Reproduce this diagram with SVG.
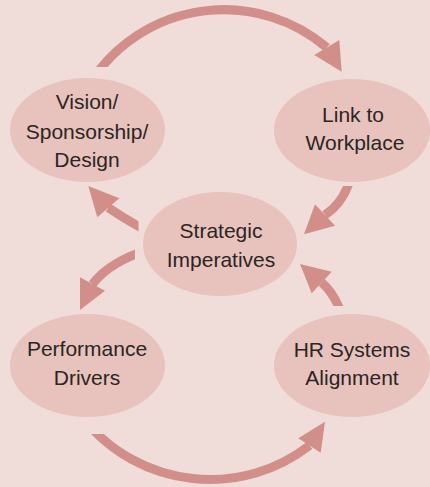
<svg xmlns="http://www.w3.org/2000/svg" width="430" height="487" viewBox="0 0 430 487">
  <style>
    .bg { fill: #f0dcd9; }
    .node ellipse { fill: #e8c2bc; }
    .node text { font-family: "Liberation Sans", Arial, sans-serif; font-size: 21px; fill: #2a2625; text-anchor: middle; }
    .shaft { fill: none; stroke: #d28e88; stroke-width: 9; }
    .head { fill: #d28e88; }
  </style>
  <defs>
    <clipPath id="cutTop"><rect x="0" y="0" width="430" height="67"/></clipPath>
    <clipPath id="cutBottom"><rect x="0" y="434" width="430" height="53"/></clipPath>
    <clipPath id="cutLink"><rect x="0" y="186" width="430" height="301"/></clipPath>
    <clipPath id="cutVision"><rect x="0" y="0" width="138.5" height="487"/></clipPath>
    <clipPath id="cutPerf"><rect x="0" y="0" width="135" height="487"/></clipPath>
    <clipPath id="cutHR"><rect x="0" y="0" width="430" height="306"/></clipPath>
  </defs>

  <rect class="bg" x="0" y="0" width="430" height="487"/>

  <g id="connectors">
    <!-- Vision -> Link to Workplace (upper arc) -->
    <path class="shaft" clip-path="url(#cutTop)" d="M92.3,79.6 A158.8,158.8 0 0 1 326.8,47.5"/>
    <polygon class="head" points="341.7,71.7 339.3,40 314.3,55"/>
    <!-- Performance Drivers -> HR Systems Alignment (lower arc) -->
    <path class="shaft" clip-path="url(#cutBottom)" d="M85.7,421.5 A162.3,162.3 0 0 0 309.5,445.5"/>
    <polygon class="head" points="325,421.7 320.7,452.7 298.3,438.3"/>
    <!-- Link to Workplace -> Strategic Imperatives -->
    <path class="shaft" clip-path="url(#cutLink)" d="M350,180 Q343,203 325,215"/>
    <polygon class="head" points="304,234.3 315,204.3 335,225.7"/>
    <!-- Strategic Imperatives -> Vision -->
    <path class="shaft" clip-path="url(#cutVision)" d="M144,229.5 Q125,219 108.3,207.8"/>
    <polygon class="head" points="88.3,186 119.3,198.3 97.3,217.3"/>
    <!-- Strategic Imperatives -> Performance Drivers -->
    <path class="shaft" clip-path="url(#cutPerf)" d="M141,252 Q108,264 92.5,284"/>
    <polygon class="head" points="80,310 80,277.3 105,290.7"/>
    <!-- HR Systems Alignment -> Strategic Imperatives -->
    <path class="shaft" clip-path="url(#cutHR)" d="M341,312 Q333,292 321.7,282.5"/>
    <polygon class="head" points="300,264 331.7,271.7 311.7,293.3"/>
  </g>

  <g id="vision" class="node">
    <ellipse cx="87.5" cy="130" rx="77.5" ry="52"/>
    <text x="87" y="109">Vision/</text>
    <text x="87" y="138.5">Sponsorship/</text>
    <text x="87" y="167">Design</text>
  </g>

  <g id="link" class="node">
    <ellipse cx="352" cy="130.5" rx="78" ry="51.5"/>
    <text x="353" y="121.7">Link to</text>
    <text x="355" y="150">Workplace</text>
  </g>

  <g id="strategic" class="node">
    <ellipse cx="220" cy="244" rx="77" ry="52"/>
    <text x="221" y="238.3">Strategic</text>
    <text x="221" y="267.3">Imperatives</text>
  </g>

  <g id="performance" class="node">
    <ellipse cx="87.5" cy="365.5" rx="77.5" ry="51.5"/>
    <text x="87" y="356">Performance</text>
    <text x="87" y="385">Drivers</text>
  </g>

  <g id="hr" class="node">
    <ellipse cx="352" cy="365.5" rx="78" ry="51.5"/>
    <text x="352" y="356.5">HR Systems</text>
    <text x="352" y="385">Alignment</text>
  </g>
</svg>
